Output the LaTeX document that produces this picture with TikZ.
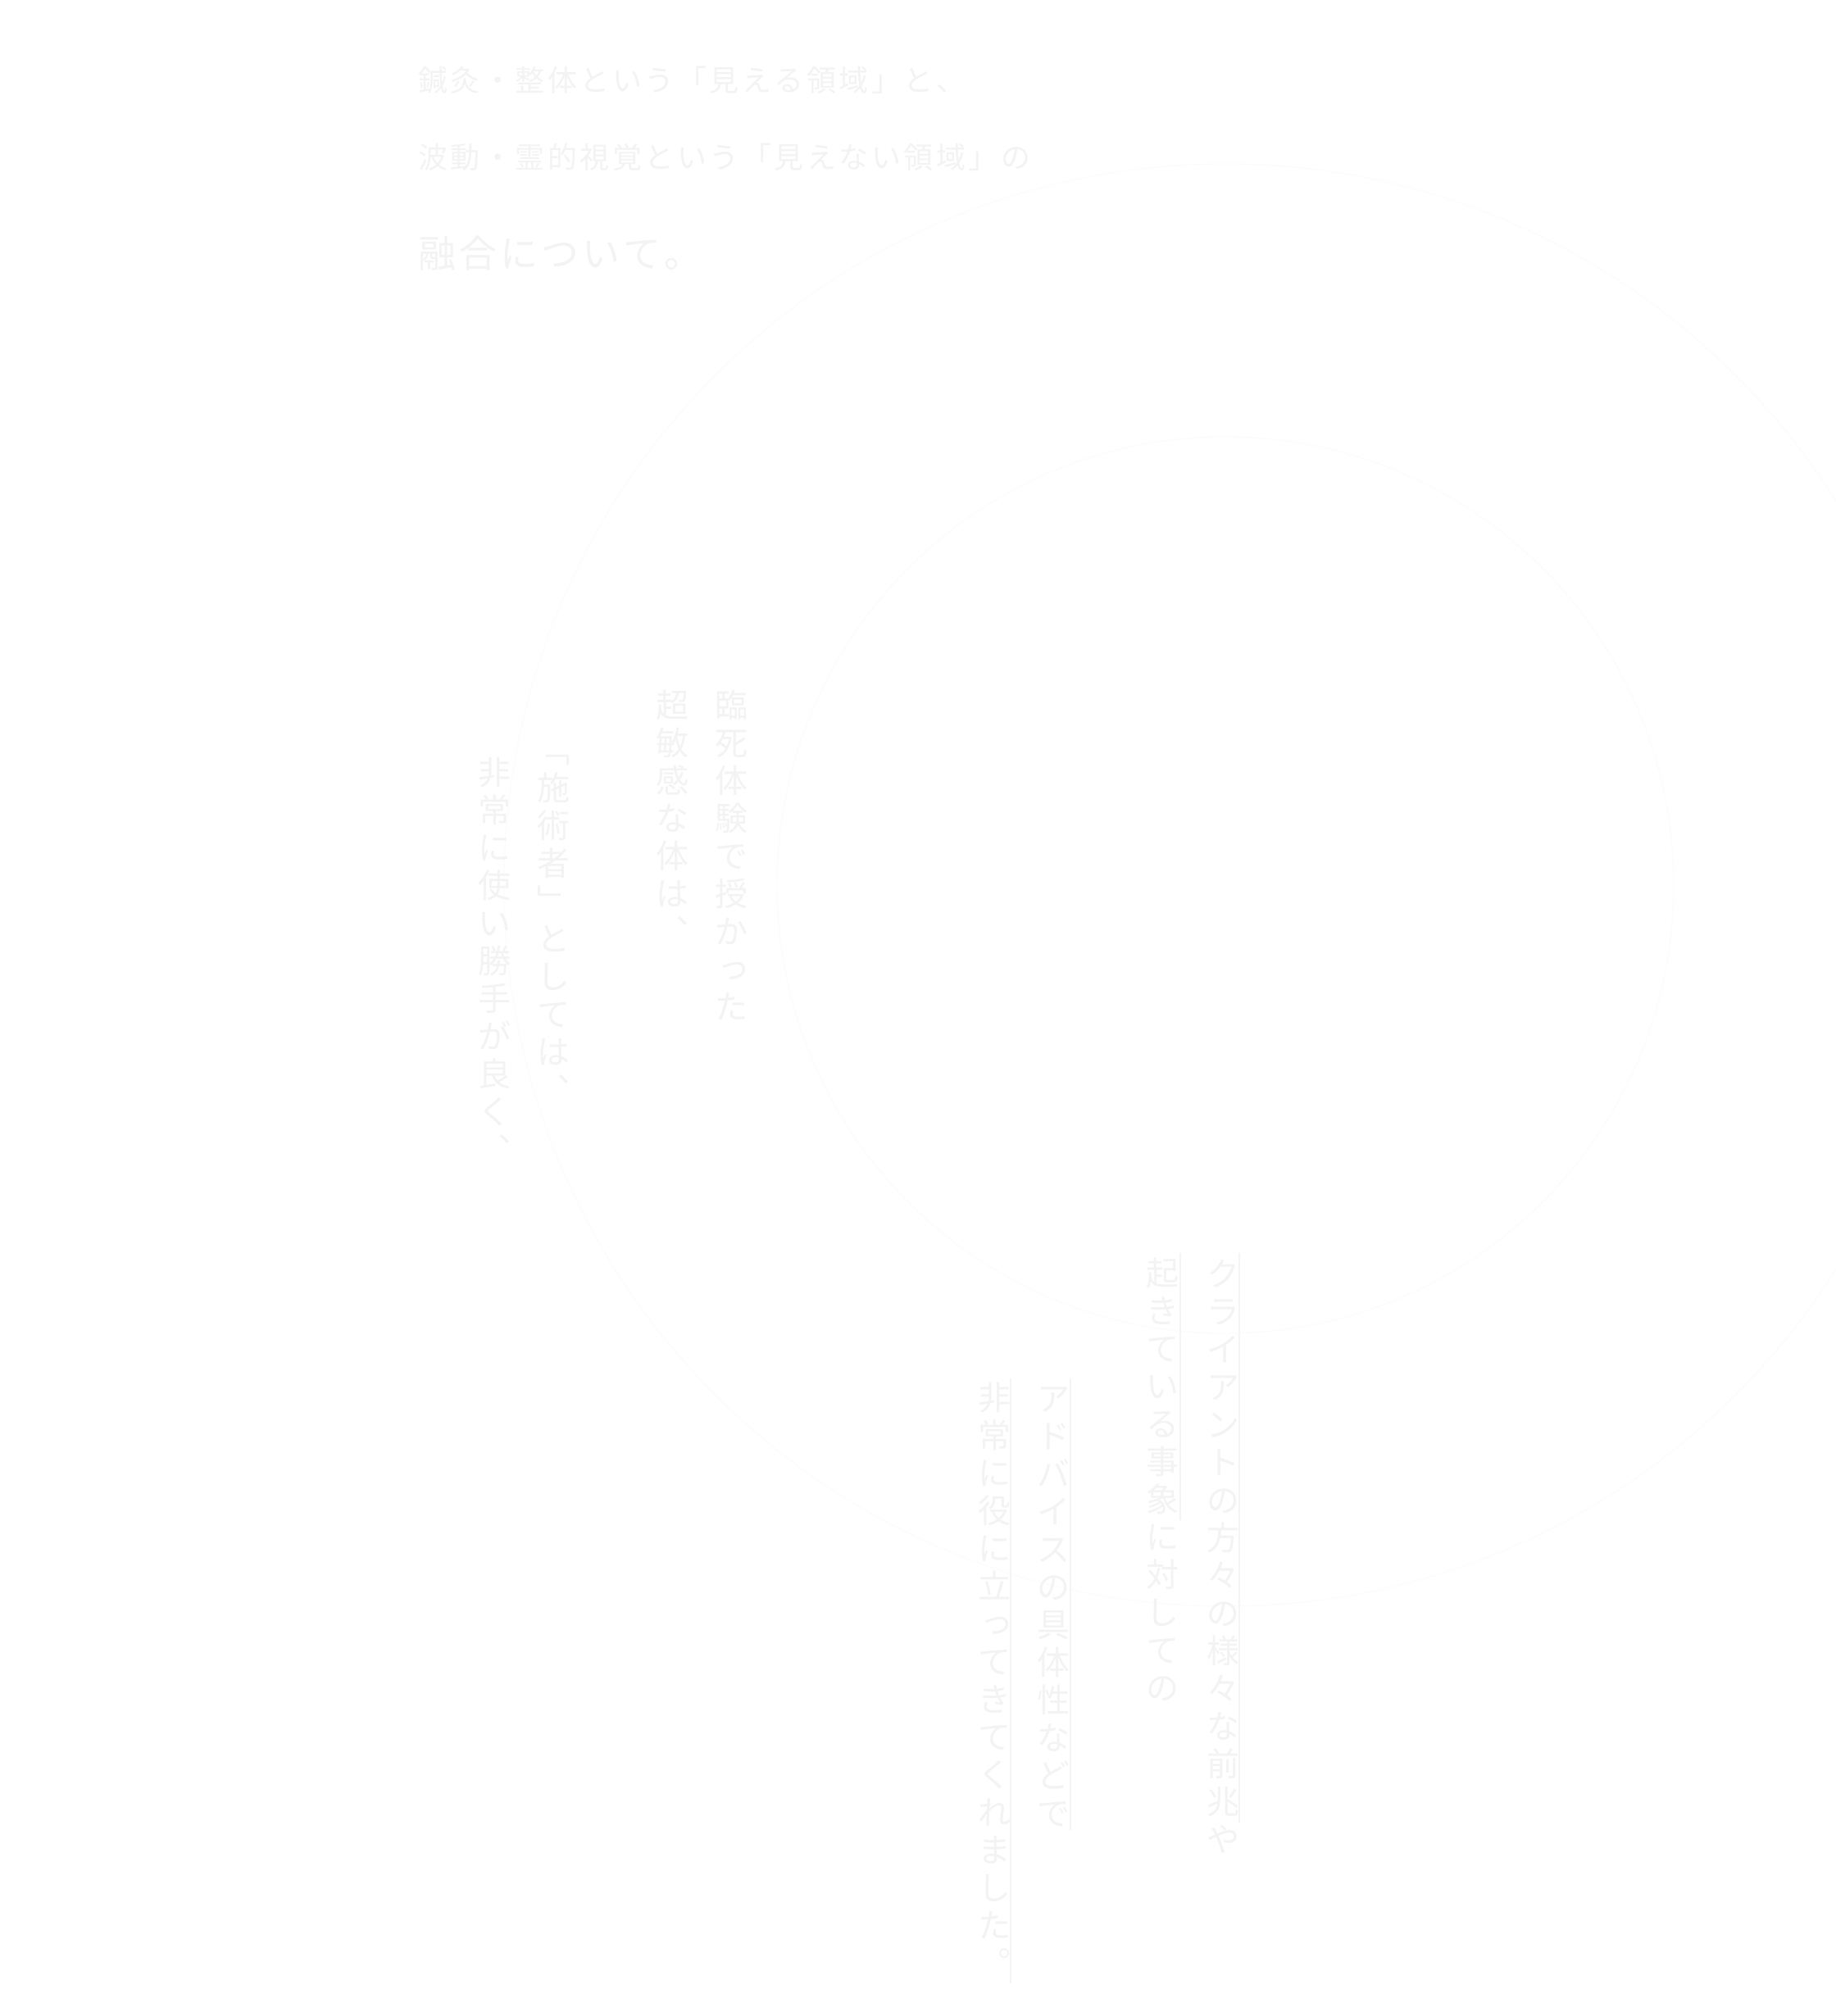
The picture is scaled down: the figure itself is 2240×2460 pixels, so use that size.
\documentclass[tikz,border=0pt]{standalone}
\usepackage{fontspec}
\newfontfamily\jp{Noto Sans CJK JP}
\definecolor{txt}{HTML}{F3F3F3}
\definecolor{rulecol}{HTML}{F4F4F4}
\definecolor{ringcol}{HTML}{FCFCFC}
\tikzset{
  vch/.style={inner sep=0pt, outer sep=0pt, text=txt,
    font=\jp\fontsize{40pt}{40pt}\selectfont, text height=35.2pt, text depth=4.8pt},
  vn/.style={},
  vs/.style={xshift=3pt, yshift=3pt},
  hchA/.style={inner sep=0pt, outer sep=0pt, text=txt,
    font=\jp\fontsize{36pt}{36pt}\selectfont, text height=31.68pt, text depth=4.32pt},
  hchB/.style={inner sep=0pt, outer sep=0pt, text=txt,
    font=\jp\fontsize{46pt}{46pt}\selectfont, text height=40.48pt, text depth=5.52pt},
  uline/.style={draw=rulecol, line width=1.6pt},
  ringline/.style={draw=ringcol, line width=1.2pt}
}
\newcommand\hrow[6]{%
  \foreach \ch [count=\i from 0] in {#6} {\node[#5, name=#1-\i] at ({#2+\i*#4}, #3) {\ch};}}
\newcommand\vcolumn[5]{%
  \foreach \st/\ch [count=\i from 0] in {#5} {\node[vch, \st, name=#1-\i] at (#2, {#3+\i*#4}) {\ch};}}
\begin{document}
\begin{tikzpicture}[x=1pt,y=-1pt]
\fill[white] (0,0) rectangle (2240,2460);
\useasboundingbox (0,0) rectangle (2240,2460);

% faint concentric rings
\coordinate (rc) at (1495,1080);
\draw[ringline] (rc) circle[radius=880pt];
\draw[ringline] (rc) circle[radius=547pt];

% horizontal heading
\hrow{ha}{528}{98}{39.5}{hchA}{鍼,灸,・,整,体,と,い,う,「,見,え,る,領,域,」,と,、}
\hrow{hb}{528}{192}{39.5}{hchA}{波,動,・,霊,的,視,覚,と,い,う,「,見,え,な,い,領,域,」,の}
\hrow{hc}{533}{309}{50}{hchB}{融,合,に,つ,い,て,。}

% vertical block 1
\vcolumn{c1}{892}{860}{46}{vn/臨,vn/死,vn/体,vn/験,vn/で,vn/授,vn/か,vs/っ,vn/た}
\vcolumn{c2}{820}{860}{46}{vn/超,vn/敏,vn/感,vn/な,vn/体,vn/は,vn/︑}
\vcolumn{c3}{675}{915}{46}{vn/﹁,vn/施,vn/術,vn/者,vn/﹂,vn/と,vn/し,vn/て,vn/は,vn/︑}
\vcolumn{c4}{603}{942}{46}{vn/非,vn/常,vn/に,vn/使,vn/い,vn/勝,vn/手,vn/が,vn/良,vn/く,vn/︑}

% vertical block 2
\vcolumn{cA}{1492}{1554}{46}{vn/ク,vn/ラ,vn/イ,vn/ア,vn/ン,vn/ト,vn/の,vn/方,vn/々,vn/の,vn/様,vn/々,vn/な,vn/前,vn/兆,vn/や}
\vcolumn{cB}{1418}{1553}{46}{vn/起,vn/き,vn/て,vn/い,vn/る,vn/事,vn/象,vn/に,vn/対,vn/し,vn/て,vn/の}
\vcolumn{cC}{1285}{1706}{46}{vn/ア,vn/ド,vn/バ,vn/イ,vn/ス,vn/の,vn/具,vn/体,vn/性,vn/な,vn/ど,vn/で}
\vcolumn{cD}{1213}{1705}{46}{vn/非,vn/常,vn/に,vn/役,vn/に,vn/立,vs/っ,vn/て,vn/き,vn/て,vn/く,vn/れ,vn/ま,vn/し,vn/た,vn/︒}

% side rules (vertical underlines)
\coordinate (lAt) at (1512,1529); \coordinate (lAb) at (1512,2224);
\coordinate (lBt) at (1440,1529); \coordinate (lBb) at (1440,1855);
\coordinate (lCt) at (1306,1682); \coordinate (lCb) at (1306,2233);
\coordinate (lDt) at (1233,1682); \coordinate (lDb) at (1233,2420);
\draw[uline] (lAt) -- (lAb);
\draw[uline] (lBt) -- (lBb);
\draw[uline] (lCt) -- (lCb);
\draw[uline] (lDt) -- (lDb);
\end{tikzpicture}
\end{document}
